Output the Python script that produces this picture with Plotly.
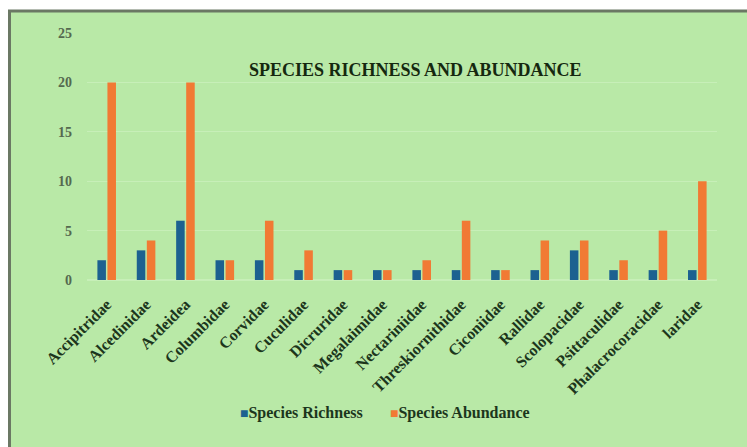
import plotly.graph_objects as go

families = [
    "Accipitridae", "Alcedinidae", "Ardeidea", "Columbidae", "Corvidae",
    "Cuculidae", "Dicruridae", "Megalaimidae", "Nectariniidae",
    "Threskiornithidae", "Ciconiidae", "Rallidae", "Scolopacidae",
    "Psittaculidae", "Phalacrocoracidae", "laridae",
]
richness = [2, 3, 6, 2, 2, 1, 1, 1, 1, 1, 1, 1, 3, 1, 1, 1]
abundance = [20, 4, 20, 2, 6, 3, 1, 1, 2, 6, 1, 4, 4, 2, 5, 10]
y_ticks = [0, 5, 10, 15, 20, 25]
series_names = ["Species Richness", "Species Abundance"]
series_colors = ["#1c6190", "#f17a34"]

W, H = 747, 447
L, R, T, B = 87, 30, 33, 167
PW, PH = W - L - R, H - T - B


def px_x(px):
    return (px - L) / PW


def px_y(py):
    return 1 - (py - T) / PH


SERIF = "Liberation Serif"
BG = "#b9e9a7"
DARK = "#1c361c"

fig = go.Figure()
for name, vals, col in zip(series_names, [richness, abundance], series_colors):
    fig.add_trace(go.Bar(name=name, x=families, y=vals,
                         marker=dict(color=col, line=dict(width=0))))

shapes = [
    # panel background
    dict(type="rect", xref="paper", yref="paper", layer="below",
         x0=px_x(9), x1=px_x(W + 5), y0=px_y(H + 5), y1=px_y(10),
         fillcolor=BG, line=dict(width=0)),
    # frame edges
    dict(type="line", xref="paper", yref="paper", layer="above",
         x0=px_x(8), x1=px_x(W + 5), y0=px_y(11), y1=px_y(11),
         line=dict(color="#6b7864", width=3)),
    dict(type="line", xref="paper", yref="paper", layer="above",
         x0=px_x(9.5), x1=px_x(9.5), y0=px_y(10), y1=px_y(H + 5),
         line=dict(color="#6b7864", width=3)),
]

# legend row below the category labels
legend_centers = [301, 460]
annotations = [dict(text="<b>SPECIES RICHNESS AND ABUNDANCE</b>",
                    xref="paper", yref="paper", x=px_x(415), y=px_y(70),
                    xanchor="center", yanchor="middle", showarrow=False,
                    font=dict(family=SERIF, size=18, color="#15280f"))]
for name, col, cx in zip(series_names, series_colors, legend_centers):
    annotations.append(dict(
        text=(f"<span style='color:{col};font-size:14px'>■</span>"
              f"<b>{name}</b>"),
        xref="paper", yref="paper", x=px_x(cx), y=px_y(413),
        xanchor="center", yanchor="middle", showarrow=False,
        font=dict(family=SERIF, size=16, color=DARK)))

fig.update_layout(
    width=W, height=H,
    margin=dict(l=L, r=R, t=T, b=B),
    paper_bgcolor="white",
    plot_bgcolor="rgba(0,0,0,0)",
    barmode="group", bargap=0.49, bargroupgap=0.15,
    shapes=shapes,
    showlegend=False,
    annotations=annotations,
    xaxis=dict(tickangle=-45, showgrid=False, showline=False, zeroline=False,
               ticks="", tickfont=dict(family=SERIF, size=16, color=DARK,
                                       weight="bold"),
               ticklabelstandoff=11),
    yaxis=dict(range=[0, 25], tickvals=y_ticks, showgrid=True,
               gridcolor="#c7efb8", gridwidth=1, zeroline=True,
               zerolinecolor="#c7efb8", showline=False, ticks="",
               tickfont=dict(family=SERIF, size=14, color="#55694f",
                             weight="bold"),
               ticklabelstandoff=14),
)

fig.write_html("out.html")
